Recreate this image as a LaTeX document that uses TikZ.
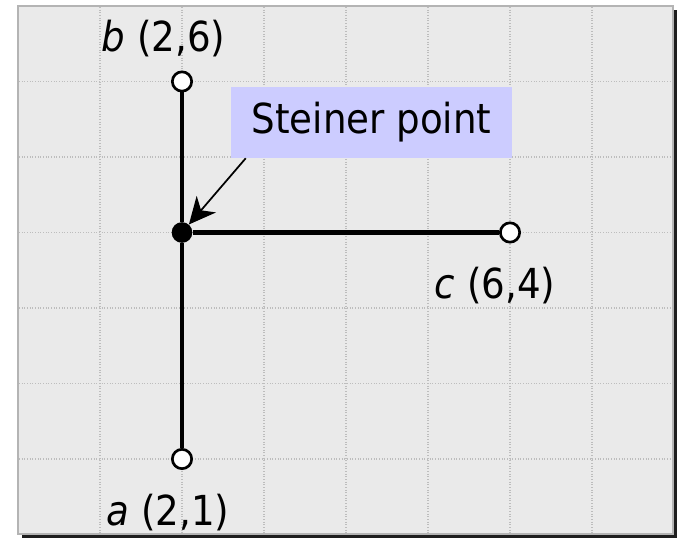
\documentclass[tikz,border=0pt]{standalone}
\usepackage{fontspec}
\setmainfont{DejaVu Sans Condensed}
\usetikzlibrary{arrows.meta,calc}
\definecolor{bgc}{HTML}{EAEAEA}
\definecolor{gridc}{HTML}{BDBDBD}
\definecolor{framec}{HTML}{B4B4B4}
\definecolor{shadowc}{HTML}{1E1E1E}
\definecolor{boxc}{HTML}{CCCCFF}
\begin{document}
\begin{tikzpicture}[x=0.75pt,y=-0.75pt,
  opendot/.style={circle,draw=black,fill=white,line width=2pt,minimum size=14.5pt,inner sep=0pt},
  fulldot/.style={circle,fill=black,minimum size=15.5pt,inner sep=0pt},
  seg/.style={line width=3.6pt},
  lbl/.style={anchor=base,inner sep=0pt,font=\fontsize{31}{36}\selectfont},
  callout/.style={fill=boxc,minimum width=210.75pt,minimum height=53.25pt,inner sep=0pt,font=\fontsize{31}{36}\selectfont},
  gridline/.style={gridc,line width=1.1pt,dash pattern=on 0.8pt off 1.2pt}]
\useasboundingbox (0,0) rectangle (677,538);
\fill[shadowc] (22,10) rectangle (677,538);
\fill[bgc] (18,6) rectangle (673,534);
\foreach \x in {100,182,264,346,428,510,592} \draw[gridline] (\x,7) -- (\x,533);
\foreach \y in {81.5,157,232.5,308,383.5,459} \draw[gridline] (19,\y) -- (672,\y);
\draw[framec,line width=1.8pt] (18,6) rectangle (673,534);
% points
\node[opendot] (b) at (182,81.5) {};
\node[fulldot] (s) at (182,232.5) {};
\node[opendot] (c) at (510,232.5) {};
\node[opendot] (a) at (182,459) {};
\draw[seg] (b) -- (s);
\draw[seg] (s) -- (a);
\draw[seg] (s) -- (c);
% labels
\node[lbl] (bl) at (163.5,52) {\textit{b} (2,6)};
\node[lbl] (cl) at (495,298) {\textit{c} (6,4)};
\node[lbl] (al) at (168,525) {\textit{a} (2,1)};
% callout
\node[callout] (note) at (371.5,122.5) {Steiner point};
\draw[line width=1.3pt,-{Stealth[length=20pt,width=19pt,inset=6pt]}] ($(note.south west)+(15,0)$) -- (s);
\end{tikzpicture}
\end{document}
